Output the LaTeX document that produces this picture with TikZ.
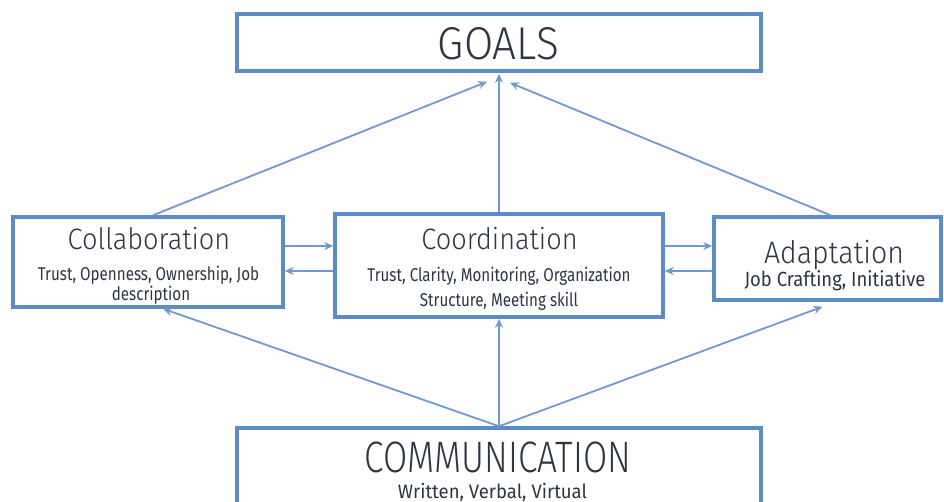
\documentclass[tikz,border=0pt]{standalone}
\usepackage{fontspec}
\setmainfont{Fira Sans}
\newfontfamily\titlefont{Fira Sans Light}[FakeStretch=0.92]
\newfontfamily\titlefontn{Fira Sans Light}[FakeStretch=0.8]
\newfontfamily\subfont{Fira Sans}[FakeStretch=0.82]
\newfontfamily\subfontw{Fira Sans}[FakeStretch=0.9]
\newfontfamily\subfontx{Fira Sans}[FakeStretch=0.95]
\usetikzlibrary{arrows.meta}
\definecolor{boxblue}{HTML}{5B8CC8}
\definecolor{arrblue}{HTML}{7199CF}
\definecolor{txt}{HTML}{2E3644}
\begin{document}
\begin{tikzpicture}[x=1pt,y=-1pt,
  box/.style={draw=boxblue,line width=3.5pt,fill=white,inner sep=0pt,rectangle},
  arr/.style={draw=arrblue,line width=1.8pt,-{Stealth[length=9pt,width=8pt]}},
  ttl/.style={anchor=base,inner sep=0pt,text=txt},
  sub/.style={anchor=base,inner sep=0pt,text=txt}]
\useasboundingbox (0,0) rectangle (944,502);
% boxes
\node[box,minimum width=524pt,minimum height=57pt] (goals) at (499,42.5) {};
\node[box,minimum width=270pt,minimum height=90pt] (collab) at (148,262) {};
\node[box,minimum width=328pt,minimum height=103pt] (coord) at (499,265.5) {};
\node[box,minimum width=227pt,minimum height=83pt] (adapt) at (827.5,258.5) {};
\node[box,minimum width=524pt,minimum height=110pt] (comm) at (499,483) {};
% texts
\node[ttl,font=\titlefont\fontsize{46}{46}\selectfont] (tgoals) at (498.5,60) {GOALS};
\node[ttl,font=\titlefont\fontsize{29.5}{29.5}\selectfont] (tcollab) at (149,250) {Collaboration};
\node[sub,font=\subfont\fontsize{18.5}{18.5}\selectfont] (scollab1) at (148.5,281) {Trust, Openness, Ownership, Job};
\node[sub,font=\subfont\fontsize{18.5}{18.5}\selectfont] (scollab2) at (151,300.5) {description};
\node[ttl,font=\titlefont\fontsize{29.5}{29.5}\selectfont] (tcoord) at (499.5,250) {Coordination};
\node[sub,font=\subfont\fontsize{18.5}{18.5}\selectfont] (scoord1) at (499,282) {Trust, Clarity, Monitoring, Organization};
\node[sub,font=\subfont\fontsize{18.5}{18.5}\selectfont] (scoord2) at (499,307) {Structure, Meeting skill};
\node[ttl,font=\titlefont\fontsize{31}{31}\selectfont] (tadapt) at (834,264) {Adaptation};
\node[sub,font=\subfontw\fontsize{20.5}{20.5}\selectfont] (sadapt) at (835,287) {Job Crafting, Initiative};
\node[ttl,font=\titlefontn\fontsize{44}{44}\selectfont] (tcomm) at (498,472) {COMMUNICATION};
\node[sub,font=\subfontx\fontsize{19.5}{19.5}\selectfont] (scomm) at (492.5,498) {Written, Verbal, Virtual};
% arrows to goals
\draw[arr] ([xshift=5pt]collab.north) -- ([xshift=-12pt,yshift=-9pt]goals.south);
\draw[arr] (coord.north) -- ([yshift=-1pt]goals.south);
\draw[arr] ([xshift=3pt]adapt.north) -- ([xshift=11pt,yshift=-10pt]goals.south);
% horizontal arrows
\draw[arr] (collab.east |- 0,246) -- (coord.west |- 0,246);
\draw[arr] (coord.west |- 0,271) -- (collab.east |- 0,271);
\draw[arr] (coord.east |- 0,246) -- (adapt.west |- 0,246);
\draw[arr] (adapt.west |- 0,271) -- (coord.east |- 0,271);
% arrows from communication
\draw[arr] (comm.north) -- ([xshift=15pt]collab.south);
\draw[arr] (comm.north) -- (coord.south);
\draw[arr] (comm.north) -- ([xshift=-5pt,yshift=-5pt]adapt.south);
\end{tikzpicture}
\end{document}
